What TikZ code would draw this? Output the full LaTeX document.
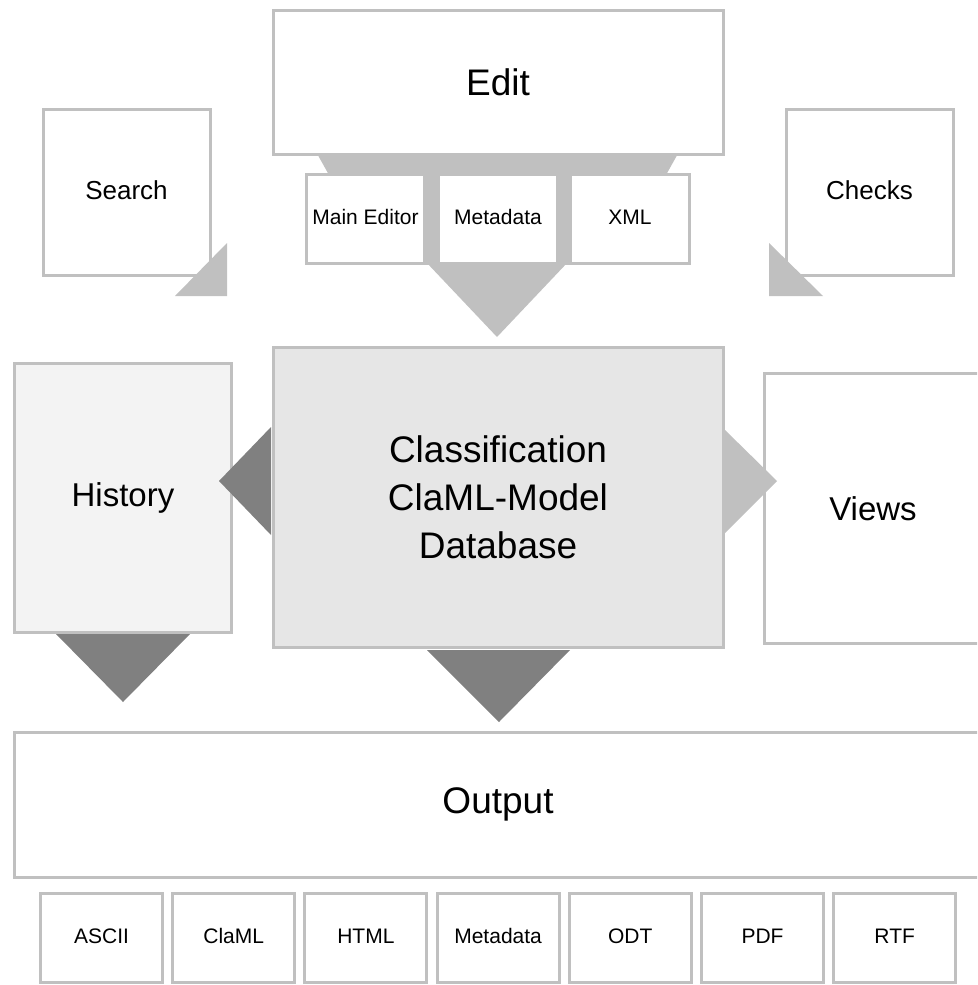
\documentclass[tikz,border=0pt]{standalone}
\usepackage{fontspec}
\setmainfont{Liberation Sans}
\definecolor{lg}{HTML}{C0C0C0}
\definecolor{dg}{HTML}{808080}
\definecolor{cfill}{HTML}{E6E6E6}
\definecolor{hfill}{HTML}{F3F3F3}
\tikzset{
  box/.style={draw=lg, line width=3pt, fill=white, inner sep=0pt, align=center, rectangle},
  subbox/.style={fill=white, inner sep=0pt, align=center, rectangle, font=\fontsize{21}{25}\selectfont, text height=15pt, text depth=4pt},
  outbox/.style={box, minimum width=122pt, minimum height=89pt, font=\fontsize{21}{25}\selectfont, text height=15pt, text depth=4pt},
  lgtri/.style={fill=lg},
  dgtri/.style={fill=dg},
}
\begin{document}
\begin{tikzpicture}[x=1pt,y=-1pt]
\useasboundingbox (0,0) rectangle (977,985);
\clip (0,0) rectangle (977,985);
% trapezoid under Edit
\fill[lg] (315,150) -- (680,150) -- (666,175) -- (329,175) -- cycle;
% Edit
\node[box, minimum width=450pt, minimum height=144pt, font=\fontsize{37}{44}\selectfont] (edit) at (498,82) {Edit};
% sub boxes backdrop
\fill[lg] (305,173) rectangle (691,265);
\node[subbox, minimum width=115pt, minimum height=86pt] (main) at (365.5,219) {Main Editor};
\node[subbox, minimum width=116pt, minimum height=86pt] (meta) at (498,219) {Metadata};
\node[subbox, minimum width=116pt, minimum height=86pt] (xml) at (630,219) {XML};
% big light triangle
\fill[lgtri] (426,262) -- (568,262) -- (497,337) -- cycle;
% Search / Checks
\node[box, minimum width=167pt, minimum height=166pt, font=\fontsize{26}{31}\selectfont] (search) at (126.5,192) {\raisebox{3pt}{Search}};
\node[box, minimum width=167pt, minimum height=166pt, font=\fontsize{26}{31}\selectfont] (checks) at (869.5,192) {\raisebox{3pt}{Checks}};
\fill[lgtri] (227,243) -- (227,296) -- (175,296) -- cycle;
\fill[lgtri] (769,243) -- (769,296) -- (823,296) -- cycle;
% middle row
\node[box, fill=hfill, minimum width=217pt, minimum height=269pt, font=\fontsize{33}{40}\selectfont] (history) at (123,498) {History};
\node[box, minimum width=218pt, minimum height=270pt, font=\fontsize{33}{40}\selectfont] (views) at (873,508.5) {Views};
\node[box, fill=cfill, minimum width=450pt, minimum height=300pt, font=\fontsize{37}{48}\selectfont] (central) at (498,497.5) {Classification\\ClaML-Model\\Database};
\fill[dgtri] (271,427) -- (219,481) -- (271,535) -- cycle;
\fill[lgtri] (725,430) -- (777,481) -- (725,533) -- cycle;
\fill[dgtri] (56,634) -- (190,634) -- (123,702) -- cycle;
\fill[dgtri] (427,650) -- (570,650) -- (499,722) -- cycle;
% Output
\node[box, minimum width=968pt, minimum height=145pt, font=\fontsize{37}{44}\selectfont] (output) at (498,804.5) {Output};
\node[outbox] (ascii) at (101.5,937.5) {ASCII};
\node[outbox] (claml) at (233.7,937.5) {ClaML};
\node[outbox] (html) at (365.9,937.5) {HTML};
\node[outbox] (meta2) at (498.1,937.5) {Metadata};
\node[outbox] (odt) at (630.3,937.5) {ODT};
\node[outbox] (pdf) at (762.5,937.5) {PDF};
\node[outbox] (rtf) at (894.7,937.5) {RTF};
\end{tikzpicture}
\end{document}
